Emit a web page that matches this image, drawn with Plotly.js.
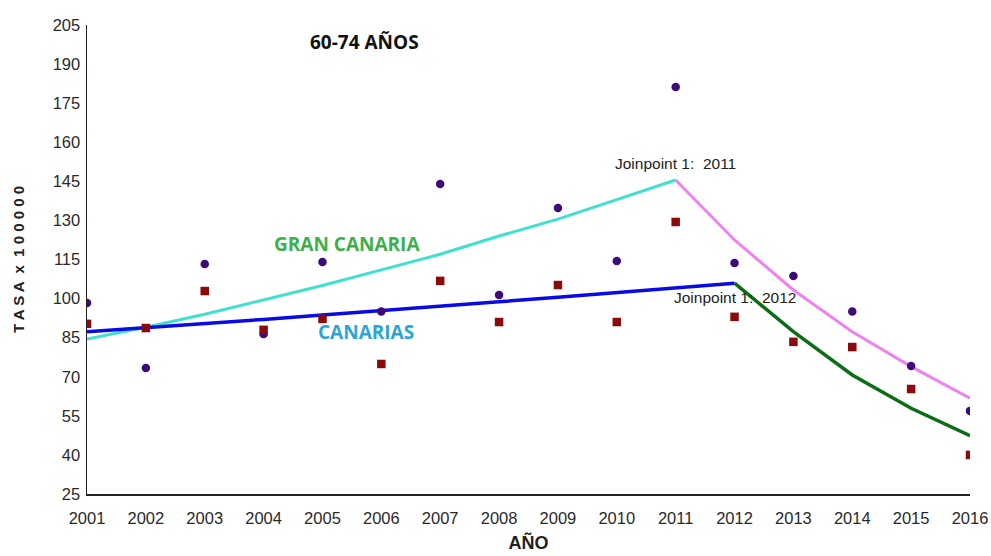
<!DOCTYPE html>
<html>
<head>
<meta charset="utf-8">
<script src="https://cdn.plot.ly/plotly-3.0.1.min.js"></script>
<style>html,body{margin:0;padding:0;background:#fff;}#chart{width:991px;height:556px;}</style>
</head>
<body>
<div id="chart"></div>
<script>
const years = [2001,2002,2003,2004,2005,2006,2007,2008,2009,2010,2011,2012,2013,2014,2015,2016];
// Observed rates
const granCanariaObs = [98.3,73.4,113.3,86.4,114,95,144,101.4,134.8,114.4,181.2,113.7,108.7,95,74.1,56.9];
const canariasObs = [90.3,88.7,102.9,88,92.2,74.9,106.8,91,105.2,91,129.4,93,83.4,81.4,65.3,40];
// Joinpoint fitted segments
const gcSeg1Years = [2001,2002,2003,2004,2005,2006,2007,2008,2009,2010,2011];
const gcSeg1 = [84.5,89,94,99.5,105,111,117,124,130.5,138,145.5];
const gcSeg2Years = [2011,2012,2013,2014,2015,2016];
const gcSeg2 = [145.5,122.5,103.3,87.3,73.9,61.8];
const caSeg1Years = [2001,2002,2003,2004,2005,2006,2007,2008,2009,2010,2011,2012];
const caSeg1 = [87.3,88.8,90.4,92.0,93.7,95.3,97.0,98.8,100.5,102.3,104.1,105.9];
const caSeg2Years = [2012,2013,2014,2015,2016];
const caSeg2 = [105.9,87.3,70.7,57.9,47.4];
const yTicks = [25,40,55,70,85,100,115,130,145,160,175,190,205];

const traces = [
  {x: gcSeg1Years, y: gcSeg1, mode:'lines', line:{color:'#40e0d0', width:3}, hoverinfo:'skip'},
  {x: gcSeg2Years, y: gcSeg2, mode:'lines', line:{color:'#ee82ee', width:3}, hoverinfo:'skip'},
  {x: caSeg1Years, y: caSeg1, mode:'lines', line:{color:'#0a0ae6', width:3.5}, hoverinfo:'skip'},
  {x: caSeg2Years, y: caSeg2, mode:'lines', line:{color:'#0b6e14', width:3.5}, hoverinfo:'skip'},
  {x: years, y: granCanariaObs, mode:'markers', marker:{symbol:'circle', size:8.5, color:'#3d0a78'}},
  {x: years, y: canariasObs, mode:'markers', marker:{symbol:'square', size:8.5, color:'#8b0a0a'}}
];

const layout = {
  width: 991, height: 556,
  margin: {l:87, r:21, t:25, b:62, pad:0},
  paper_bgcolor:'#fff', plot_bgcolor:'#fff',
  showlegend:false,
  font:{family:'"Liberation Sans", Arial, sans-serif', size:16, color:'#222'},
  xaxis:{
    range:[2001,2016], tickvals: years, ticktext: years.map(String),
    showgrid:false, zeroline:false, showline:true, linecolor:'#222', linewidth:1.5,
    ticks:'outside', ticklen:9, tickcolor:'rgba(0,0,0,0)',
    tickfont:{size:16.5, color:'#2a2a2a'},
    title:{text:'<b>AÑO</b>', font:{size:18, color:'#222', family:'"Liberation Sans", Arial, sans-serif'}, standoff:10}
  },
  yaxis:{
    range:[25,205], tickvals: yTicks, ticktext: yTicks.map(String),
    showgrid:false, zeroline:false, showline:true, linecolor:'#222', linewidth:1.5,
    ticks:'outside', ticklen:2, tickcolor:'rgba(0,0,0,0)',
    tickfont:{size:16.5, color:'#2a2a2a'},
    title:{text:'<b>T A S A  x  1 0 0 0 0 0</b>', font:{size:15, color:'#222'}, standoff:24}
  },
  annotations:[
    {xref:'paper', yref:'paper', x:(364-87)/883, y:(494-42)/469, xanchor:'center', yanchor:'middle',
     text:'<b>60-74 AÑOS</b>', showarrow:false,
     font:{size:19, color:'#111', family:'"Open Sans", sans-serif'}},
    {xref:'paper', yref:'paper', x:(347-87)/883, y:(494-244)/469, xanchor:'center', yanchor:'middle',
     text:'<b>GRAN CANARIA</b>', showarrow:false,
     font:{size:19, color:'#3cb04a', family:'"Open Sans", sans-serif'}},
    {xref:'paper', yref:'paper', x:(366-87)/883, y:(494-332)/469, xanchor:'center', yanchor:'middle',
     text:'<b>CANARIAS</b>', showarrow:false,
     font:{size:19, color:'#2aa6d6', family:'"Open Sans", sans-serif'}},
    {x:2011, y:152, xanchor:'center', yanchor:'middle', text:'Joinpoint 1:  2011', showarrow:false,
     font:{size:15.5, color:'#222', family:'"Liberation Sans", Arial, sans-serif'}},
    {x:2012, y:100.6, xanchor:'center', yanchor:'middle', text:'Joinpoint 1:  2012', showarrow:false,
     font:{size:15.5, color:'#222', family:'"Liberation Sans", Arial, sans-serif'}}
  ]
};

Plotly.newPlot('chart', traces, layout, {displayModeBar:false, staticPlot:true});
</script>
</body>
</html>
